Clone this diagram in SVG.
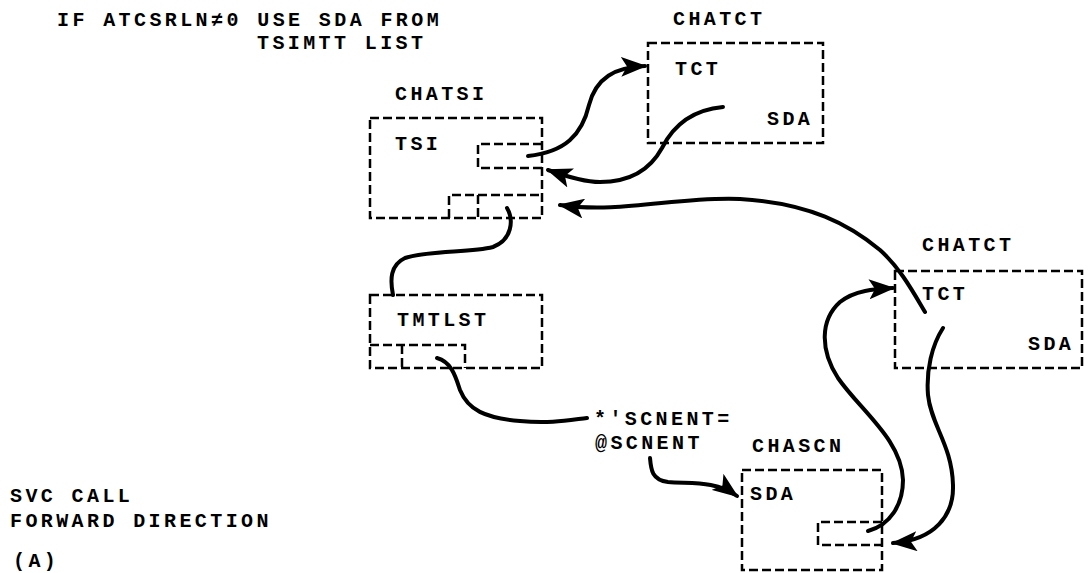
<svg xmlns="http://www.w3.org/2000/svg" width="1090" height="573" viewBox="0 0 1090 573">
<style>
.t{font-family:"Liberation Mono","DejaVu Sans Mono",monospace;font-size:20px;font-weight:bold;letter-spacing:3.4px;fill:#000}
.box{fill:none;stroke:#000;stroke-width:2.5;stroke-dasharray:9 4}
.c{fill:none;stroke:#000;stroke-width:4;stroke-linecap:round}
.a{marker-end:url(#ah)}
</style>
<defs>
<marker id="ah" markerUnits="userSpaceOnUse" markerWidth="26" markerHeight="20" refX="24" refY="10" orient="auto">
<path d="M0,0 L26,10 L0,20 L6,10 z" fill="#000"/>
</marker>
</defs>
<rect width="1090" height="573" fill="#fff"/>
<g id="caption">
<text class="t" x="57" y="26">IF ATCSRLN≠0 USE SDA FROM</text>
<text class="t" x="257" y="49">TSIMTT LIST</text>
<text class="t" x="10" y="502">SVC CALL</text>
<text class="t" x="10" y="527">FORWARD DIRECTION</text>
<text class="t" x="13" y="567">(A)</text>
</g>
<g id="chatct1">
<text class="t" x="673" y="25">CHATCT</text>
<rect class="box" x="648" y="43" width="175" height="100"/>
<text class="t" x="675" y="75">TCT</text>
<text class="t" x="767" y="125">SDA</text>
</g>
<g id="chatsi">
<text class="t" x="395" y="100">CHATSI</text>
<rect class="box" x="370" y="118" width="172" height="100"/>
<text class="t" x="395" y="150">TSI</text>
<path class="box" d="M542,144 H478 V168 H542"/>
<path class="box" d="M449,218 V195 H542 M478,195 V218"/>
</g>
<g id="tmtlst">
<rect class="box" x="370" y="295" width="172" height="73"/>
<text class="t" x="397" y="326">TMTLST</text>
<path class="box" d="M370,345 H465 V368 M402,345 V368"/>
</g>
<g id="chatct2">
<text class="t" x="922" y="251">CHATCT</text>
<rect class="box" x="895" y="271" width="187" height="97"/>
<text class="t" x="922" y="300">TCT</text>
<text class="t" x="1028" y="350">SDA</text>
</g>
<g id="scnent">
<text class="t" x="594" y="425">*'SCNENT=</text>
<text class="t" x="595" y="449">@SCNENT</text>
</g>
<g id="chascn">
<text class="t" x="752" y="452">CHASCN</text>
<rect class="box" x="742" y="470" width="140" height="100"/>
<text class="t" x="750" y="500">SDA</text>
<path class="box" d="M882,522 H818 V545 H882"/>
</g>
<g id="connectors">
<path class="c a" d="M528,156 C565,152 582,135 589,105 C596,78 615,67 645,66"/>
<path class="c a" d="M723,107 C690,110 672,128 662,148 C650,170 630,182 600,182 C585,182 565,176 548,170"/>
<path class="c a" d="M925,312 C912,290 900,268 880,250 C850,225 810,203 740,199 C680,196 620,214 560,205"/>
<path class="c a" d="M943,328 C932,345 926,370 928,395 C931,425 952,445 953,485 C954,515 935,540 893,543"/>
<path class="c a" d="M868,531 C890,525 903,505 903,480 C902,440 860,410 838,378 C820,350 820,320 840,302 C855,290 875,289 893,288"/>
<path class="c" d="M507,208 C514,220 512,240 493,247 C470,253 430,250 405,258 C390,265 390,280 393,295"/>
<path class="c" d="M437,358 C452,362 456,378 460,390 C468,410 485,418 520,421 C550,424 570,420 587,418"/>
<path class="c a" d="M650,458 C651,470 652,480 668,482 C690,484 715,480 737,496"/>
</g>
</svg>
